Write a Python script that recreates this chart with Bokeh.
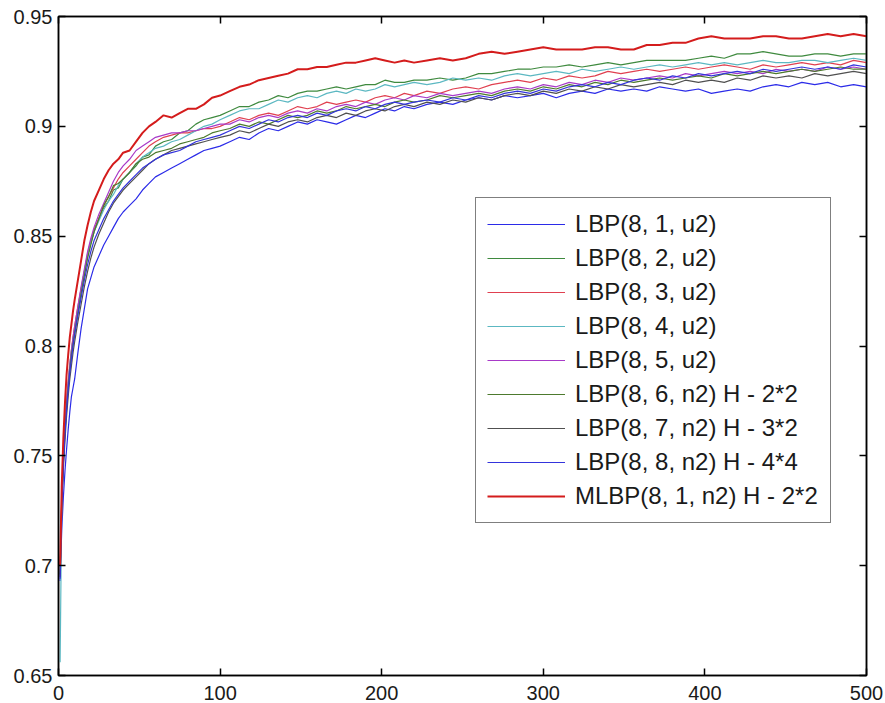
from bokeh.plotting import figure
from bokeh.models import (Range1d, FixedTicker, LinearAxis, Legend, LegendItem,
                          CustomJSTickFormatter)
from bokeh.embed import file_html
from bokeh.resources import INLINE

# ---------------- data ----------------
x = [1, 2, 3, 4, 5, 6, 7, 8, 9, 10,
     12, 14, 16, 18, 20, 22,
     25, 28, 31, 34, 37, 40,
     44, 48, 52, 56, 60,
     65, 70, 75, 80, 85, 90, 95, 100,
     106, 112, 118, 124, 130, 136, 142, 148, 154, 160, 166, 172, 178, 184, 190, 196, 202, 208, 214, 220,
     228, 236, 244, 252, 260, 268, 276, 284, 292, 300,
     308, 316, 324, 332, 340, 348, 356, 364, 372, 380,
     388, 396, 404, 412, 420, 428, 436, 444, 452, 460, 468, 476, 484, 492, 500]

lbp_8_1_u2 = [0.693, 0.716, 0.731, 0.743, 0.753, 0.762, 0.770, 0.777, 0.781, 0.785,
              0.797, 0.808, 0.817, 0.826, 0.831, 0.836,
              0.841, 0.846, 0.850, 0.854, 0.858, 0.861,
              0.864, 0.867, 0.871, 0.874, 0.877,
              0.879, 0.881, 0.883, 0.885, 0.887, 0.889, 0.890, 0.891,
              0.893, 0.895, 0.894, 0.897, 0.899, 0.898, 0.900, 0.902, 0.901, 0.903, 0.902, 0.901, 0.903, 0.905, 0.904, 0.906, 0.908, 0.907, 0.909, 0.908,
              0.910, 0.911, 0.910, 0.912, 0.913, 0.912, 0.914, 0.913, 0.914, 0.915,
              0.913, 0.915, 0.916, 0.915, 0.917, 0.916, 0.917, 0.916, 0.918, 0.917,
              0.916, 0.917, 0.915, 0.916, 0.917, 0.916, 0.918, 0.919, 0.918, 0.920, 0.919, 0.920, 0.918, 0.919, 0.918]

lbp_8_2_u2 = [0.696, 0.730, 0.748, 0.762, 0.773, 0.782, 0.790, 0.796, 0.802, 0.807,
              0.816, 0.825, 0.833, 0.841, 0.847, 0.852,
              0.858, 0.863, 0.866, 0.871, 0.872, 0.876,
              0.879, 0.882, 0.886, 0.887, 0.891,
              0.893, 0.894, 0.897, 0.898, 0.901, 0.903, 0.904, 0.905,
              0.907, 0.909, 0.909, 0.911, 0.912, 0.914, 0.913, 0.915, 0.916, 0.916, 0.917, 0.918, 0.917, 0.918, 0.919, 0.919, 0.921, 0.920, 0.920, 0.921,
              0.921, 0.922, 0.921, 0.922, 0.924, 0.924, 0.925, 0.926, 0.926, 0.927,
              0.927, 0.928, 0.927, 0.928, 0.929, 0.928, 0.929, 0.930, 0.930, 0.930,
              0.930, 0.931, 0.932, 0.931, 0.933, 0.933, 0.934, 0.933, 0.932, 0.932, 0.933, 0.933, 0.932, 0.933, 0.933]

lbp_8_3_u2 = [0.697, 0.731, 0.750, 0.764, 0.775, 0.784, 0.792, 0.798, 0.804, 0.809,
              0.818, 0.826, 0.834, 0.842, 0.848, 0.853,
              0.858, 0.864, 0.868, 0.872, 0.876, 0.879,
              0.882, 0.885, 0.888, 0.891, 0.893,
              0.895, 0.896, 0.897, 0.897, 0.898, 0.899, 0.899, 0.900,
              0.902, 0.904, 0.903, 0.905, 0.906, 0.905, 0.907, 0.909, 0.908, 0.909, 0.911, 0.910, 0.911, 0.912, 0.911, 0.913, 0.914, 0.913, 0.915, 0.914,
              0.916, 0.915, 0.917, 0.918, 0.917, 0.919, 0.920, 0.921, 0.920, 0.922,
              0.921, 0.923, 0.922, 0.923, 0.925, 0.924, 0.925, 0.926, 0.925, 0.926,
              0.927, 0.926, 0.927, 0.928, 0.927, 0.926, 0.928, 0.927, 0.928, 0.929, 0.928, 0.929, 0.928, 0.930, 0.929]

lbp_8_4_u2 = [0.656, 0.728, 0.748, 0.762, 0.774, 0.783, 0.791, 0.798, 0.803, 0.808,
              0.817, 0.826, 0.834, 0.841, 0.847, 0.852,
              0.857, 0.862, 0.866, 0.869, 0.873, 0.876,
              0.879, 0.883, 0.886, 0.888, 0.890,
              0.891, 0.893, 0.894, 0.896, 0.898, 0.900, 0.901, 0.903,
              0.905, 0.907, 0.908, 0.908, 0.910, 0.912, 0.911, 0.913, 0.914, 0.913, 0.915, 0.916, 0.915, 0.917, 0.916, 0.917, 0.919, 0.918, 0.919, 0.920,
              0.919, 0.920, 0.922, 0.921, 0.922, 0.921, 0.923, 0.924, 0.923, 0.924,
              0.925, 0.924, 0.926, 0.925, 0.926, 0.927, 0.926, 0.927, 0.928, 0.927,
              0.928, 0.929, 0.928, 0.929, 0.928, 0.929, 0.930, 0.929, 0.929, 0.930, 0.930, 0.929, 0.930, 0.931, 0.930]

lbp_8_5_u2 = [0.695, 0.729, 0.748, 0.763, 0.774, 0.783, 0.791, 0.798, 0.804, 0.809,
              0.818, 0.827, 0.835, 0.843, 0.849, 0.854,
              0.860, 0.865, 0.870, 0.875, 0.879, 0.882,
              0.885, 0.889, 0.891, 0.893, 0.895,
              0.896, 0.897, 0.897, 0.898, 0.898, 0.899, 0.900, 0.901,
              0.901, 0.903, 0.902, 0.904, 0.905, 0.904, 0.906, 0.907, 0.906, 0.908, 0.907, 0.909, 0.910, 0.909, 0.911, 0.910, 0.912, 0.913, 0.912, 0.914,
              0.913, 0.915, 0.914, 0.915, 0.916, 0.915, 0.917, 0.918, 0.917, 0.919,
              0.918, 0.920, 0.919, 0.921, 0.920, 0.922, 0.921, 0.922, 0.923, 0.922,
              0.924, 0.923, 0.924, 0.925, 0.924, 0.925, 0.924, 0.926, 0.925, 0.926, 0.925, 0.927, 0.926, 0.927, 0.926]

lbp_8_6_n2 = [0.696, 0.729, 0.747, 0.761, 0.772, 0.781, 0.789, 0.796, 0.801, 0.806,
              0.815, 0.824, 0.832, 0.840, 0.846, 0.852,
              0.858, 0.864, 0.868, 0.873, 0.874, 0.876,
              0.879, 0.883, 0.885, 0.886, 0.888,
              0.889, 0.890, 0.892, 0.893, 0.894, 0.895, 0.897, 0.898,
              0.899, 0.901, 0.900, 0.902, 0.901, 0.903, 0.905, 0.904, 0.905, 0.907, 0.906, 0.907, 0.909, 0.908, 0.909, 0.910, 0.909, 0.911, 0.912, 0.911,
              0.912, 0.914, 0.913, 0.914, 0.915, 0.914, 0.916, 0.917, 0.916, 0.918,
              0.917, 0.919, 0.918, 0.920, 0.919, 0.921, 0.920, 0.921, 0.922, 0.921,
              0.922, 0.923, 0.922, 0.924, 0.923, 0.924, 0.925, 0.924, 0.925, 0.926, 0.925, 0.926, 0.927, 0.926, 0.926]

lbp_8_7_n2 = [0.695, 0.726, 0.744, 0.757, 0.768, 0.777, 0.785, 0.791, 0.797, 0.802,
              0.811, 0.819, 0.827, 0.834, 0.840, 0.845,
              0.851, 0.856, 0.861, 0.865, 0.868, 0.871,
              0.874, 0.877, 0.880, 0.883, 0.885,
              0.887, 0.889, 0.890, 0.891, 0.892, 0.893, 0.894, 0.895,
              0.896, 0.898, 0.897, 0.899, 0.901, 0.900, 0.902, 0.903, 0.902, 0.904, 0.905, 0.904, 0.906, 0.905, 0.907, 0.908, 0.907, 0.909, 0.910, 0.909,
              0.911, 0.910, 0.912, 0.911, 0.913, 0.912, 0.914, 0.915, 0.914, 0.916,
              0.915, 0.917, 0.916, 0.918, 0.917, 0.919, 0.918, 0.919, 0.920, 0.919,
              0.921, 0.920, 0.921, 0.920, 0.922, 0.921, 0.923, 0.922, 0.923, 0.922, 0.924, 0.923, 0.924, 0.925, 0.924]

lbp_8_8_n2 = [0.694, 0.727, 0.746, 0.760, 0.771, 0.780, 0.788, 0.794, 0.800, 0.805,
              0.814, 0.822, 0.830, 0.837, 0.843, 0.848,
              0.853, 0.858, 0.862, 0.866, 0.869, 0.872,
              0.875, 0.878, 0.881, 0.883, 0.885,
              0.887, 0.888, 0.889, 0.891, 0.893, 0.894, 0.895, 0.896,
              0.898, 0.900, 0.899, 0.901, 0.903, 0.902, 0.904, 0.905, 0.904, 0.906, 0.905, 0.907, 0.908, 0.907, 0.909, 0.908, 0.910, 0.911, 0.910, 0.911,
              0.912, 0.911, 0.913, 0.912, 0.914, 0.913, 0.915, 0.916, 0.915, 0.917,
              0.916, 0.918, 0.919, 0.918, 0.920, 0.919, 0.921, 0.922, 0.921, 0.923,
              0.922, 0.924, 0.923, 0.924, 0.925, 0.924, 0.926, 0.925, 0.926, 0.927, 0.926, 0.927, 0.926, 0.928, 0.927]

mlbp_8_1_n2 = [0.700, 0.736, 0.758, 0.774, 0.787, 0.796, 0.804, 0.810, 0.816, 0.821,
               0.830, 0.839, 0.848, 0.855, 0.861, 0.866,
               0.871, 0.876, 0.880, 0.883, 0.885, 0.888,
               0.889, 0.893, 0.897, 0.900, 0.902,
               0.905, 0.904, 0.906, 0.908, 0.908, 0.910, 0.913, 0.914,
               0.916, 0.918, 0.919, 0.921, 0.922, 0.923, 0.924, 0.926, 0.926, 0.927, 0.927, 0.928, 0.929, 0.929, 0.930, 0.931, 0.930, 0.929, 0.930, 0.929,
               0.930, 0.931, 0.930, 0.931, 0.933, 0.934, 0.933, 0.934, 0.935, 0.936,
               0.935, 0.935, 0.935, 0.936, 0.936, 0.935, 0.935, 0.937, 0.937, 0.938,
               0.938, 0.940, 0.941, 0.940, 0.940, 0.940, 0.941, 0.941, 0.940, 0.940, 0.941, 0.942, 0.941, 0.942, 0.941]

series_names = ["LBP(8, 1, u2)", "LBP(8, 2, u2)", "LBP(8, 3, u2)", "LBP(8, 4, u2)",
                "LBP(8, 5, u2)", "LBP(8, 6, n2) H - 2*2", "LBP(8, 7, n2) H - 3*2",
                "LBP(8, 8, n2) H - 4*4", "MLBP(8, 1, n2) H - 2*2"]
series_values = [lbp_8_1_u2, lbp_8_2_u2, lbp_8_3_u2, lbp_8_4_u2, lbp_8_5_u2,
                 lbp_8_6_n2, lbp_8_7_n2, lbp_8_8_n2, mlbp_8_1_n2]
series_colors = ["#2b2be8", "#3f8a3f", "#e04050", "#5cb8c2", "#a83ac8",
                 "#4d7a2e", "#505050", "#3434dc", "#d41c1c"]
series_widths = [1.2, 1.2, 1.2, 1.2, 1.2, 1.2, 1.2, 1.2, 2.0]

x_ticks = [0, 100, 200, 300, 400, 500]
y_ticks = [0.65, 0.7, 0.75, 0.8, 0.85, 0.9, 0.95]
y_tick_labels = ["0.65", "0.7", "0.75", "0.8", "0.85", "0.9", "0.95"]

# ---------------- figure ----------------
p = figure(width=885, height=703, output_backend="svg", toolbar_location=None,
           x_range=Range1d(0, 500), y_range=Range1d(0.65, 0.95),
           min_border_left=58, min_border_right=19, min_border_top=16, min_border_bottom=28,
           background_fill_color="white", border_fill_color="white")
p.grid.visible = False
p.outline_line_color = "black"
p.outline_line_width = 1.5

font = "Liberation Sans"

def style_axis(ax, ticks, show_labels=True):
    ax.ticker = FixedTicker(ticks=ticks)
    ax.major_tick_in = 7
    ax.major_tick_out = 0
    ax.minor_tick_in = 0
    ax.minor_tick_out = 0
    ax.axis_line_color = "black"
    ax.axis_line_width = 1.5
    ax.major_tick_line_color = "black"
    ax.major_tick_line_width = 1.5
    ax.major_label_text_font = font
    ax.major_label_text_font_size = "20px"
    ax.major_label_text_color = "#1a1a1a"
    if not show_labels:
        ax.formatter = CustomJSTickFormatter(code="return ''")
        ax.major_label_standoff = 0

style_axis(p.xaxis[0], x_ticks)
p.xaxis[0].major_label_standoff = 10
style_axis(p.yaxis[0], y_ticks)
p.yaxis[0].major_label_standoff = 6
p.yaxis[0].major_label_overrides = {t: s for t, s in zip(y_ticks, y_tick_labels)}

top_axis = LinearAxis()
style_axis(top_axis, x_ticks, show_labels=False)
p.add_layout(top_axis, "above")
right_axis = LinearAxis()
style_axis(right_axis, y_ticks, show_labels=False)
p.add_layout(right_axis, "right")

items = []
for name, vals, col, w in zip(series_names, series_values, series_colors, series_widths):
    r = p.line(x, vals, line_color=col, line_width=w)
    items.append(LegendItem(label=name, renderers=[r]))

legend = Legend(items=items, location=(417, 152))
legend.label_text_font = font
legend.label_text_font_size = "24px"
legend.label_text_color = "#1a1a1a"
legend.glyph_width = 78
legend.glyph_height = 30
legend.label_height = 30
legend.label_width = 244
legend.label_standoff = 10
legend.spacing = 4
legend.padding = 11
legend.margin = 0
legend.border_line_color = "black"
legend.border_line_width = 1.5
legend.background_fill_color = "white"
legend.background_fill_alpha = 1.0
p.add_layout(legend)

open("out.html", "w").write(file_html(p, INLINE))
